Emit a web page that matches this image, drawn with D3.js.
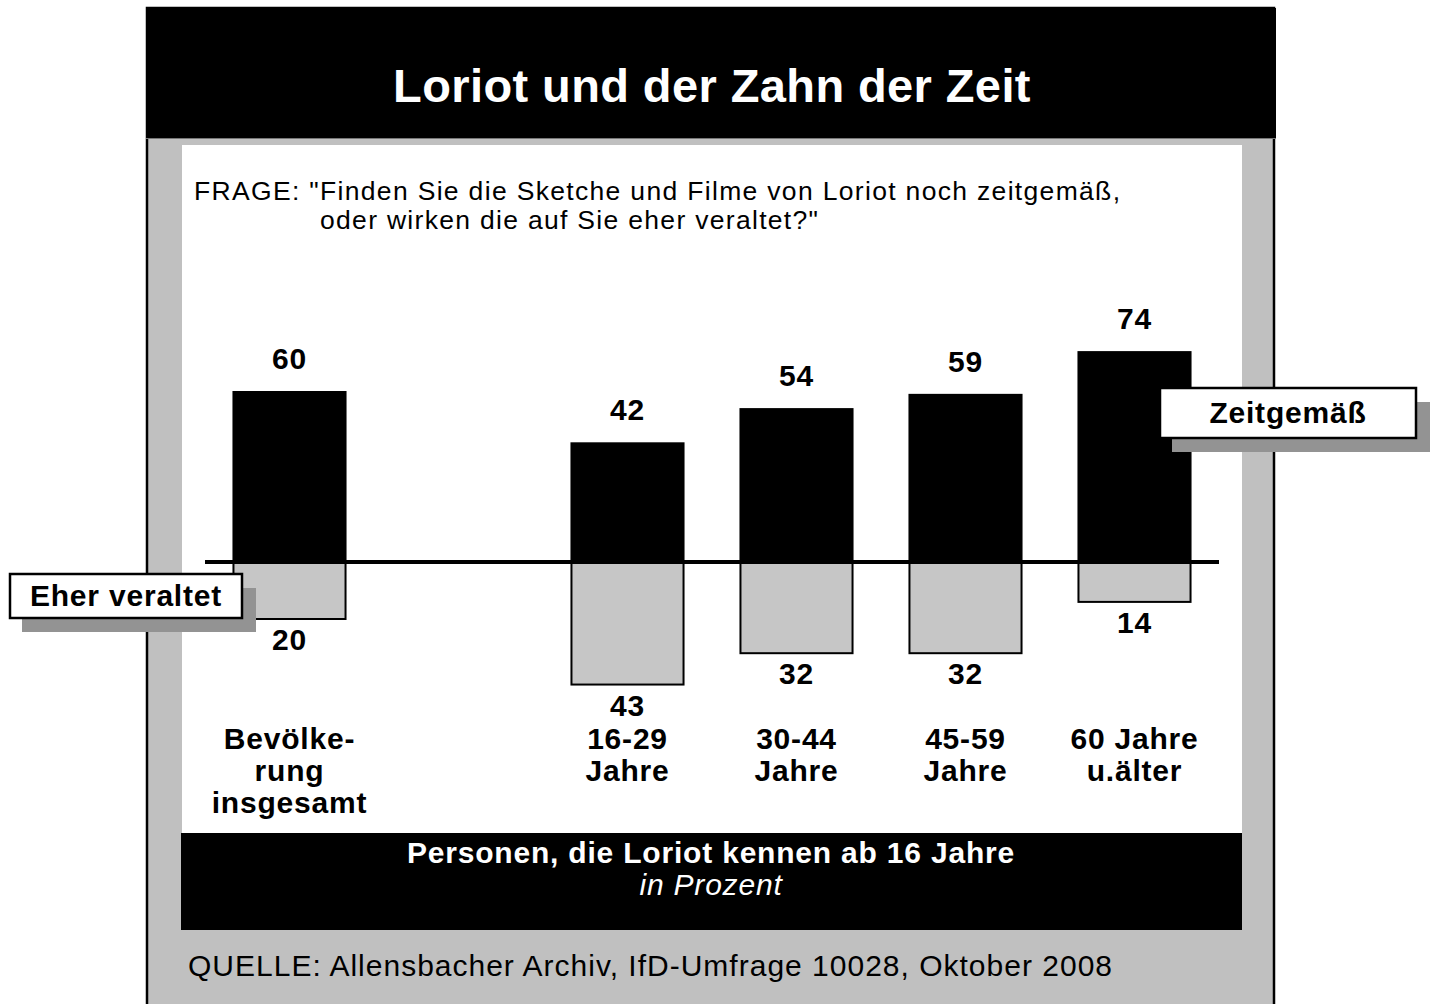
<!DOCTYPE html>
<html lang="de">
<head>
<meta charset="UTF-8">
<title>Loriot und der Zahn der Zeit</title>
<style>
  body { margin: 0; background: #fff; }
  svg { display: block; font-family: "Liberation Sans", Arial, Helvetica, sans-serif; }
</style>
</head>
<body>
<div id="chart"></div>
<script src="https://d3js.org/d3.v7.min.js"></script>
<script>
// data
const slots = ["gesamt", "leer", "16-29", "30-44", "45-59", "60+"];
const groups = ["gesamt", "16-29", "30-44", "45-59", "60+"];
const groupLabels = [["Bevölke-", "rung", "insgesamt"], ["16-29", "Jahre"], ["30-44", "Jahre"], ["45-59", "Jahre"], ["60 Jahre", "u.älter"]];
const zeitgemaess = [60, 42, 54, 59, 74];
const veraltet = [20, 43, 32, 32, 14];

const title = "Loriot und der Zahn der Zeit";
const frage = ["FRAGE: \"Finden Sie die Sketche und Filme von Loriot noch zeitgemäß,", "oder wirken die auf Sie eher veraltet?\""];
const basis = "Personen, die Loriot kennen ab 16 Jahre";
const einheit = "in Prozent";
const quelle = "QUELLE: Allensbacher Archiv, IfD-Umfrage 10028, Oktober 2008";

const W = 1438, H = 1004;
const svg = d3.select("#chart").append("svg").attr("width", W).attr("height", H);
const bold = 30, ls = 0.8;

// frame
svg.append("rect").attr("x", 147).attr("y", 8).attr("width", 1127).attr("height", 1000)
  .attr("fill", "#c0c0c0").attr("stroke", "#000").attr("stroke-width", 2.5);
svg.append("rect").attr("x", 146).attr("y", 8).attr("width", 1130).attr("height", 130).attr("fill", "#000");
svg.append("line").attr("x1", 146).attr("x2", 1276).attr("y1", 138.5).attr("y2", 138.5).attr("stroke", "#777").attr("stroke-width", 1);
svg.append("rect").attr("x", 182).attr("y", 145).attr("width", 1060).attr("height", 690).attr("fill", "#fff");
svg.append("rect").attr("x", 181).attr("y", 833).attr("width", 1061).attr("height", 97).attr("fill", "#000");

svg.append("text").attr("x", 712).attr("y", 102).attr("text-anchor", "middle")
  .attr("fill", "#fff").attr("font-weight", "bold").attr("font-size", 47).attr("letter-spacing", 0.4).text(title);

svg.append("text").attr("x", 194).attr("y", 200).attr("font-size", 26.5)
  .attr("textLength", 926).attr("lengthAdjust", "spacing").text(frage[0]);
svg.append("text").attr("x", 320).attr("y", 229).attr("font-size", 26.5)
  .attr("textLength", 498).attr("lengthAdjust", "spacing").text(frage[1]);

svg.append("text").attr("x", 711).attr("y", 863).attr("text-anchor", "middle")
  .attr("fill", "#fff").attr("font-weight", "bold").attr("font-size", bold).attr("letter-spacing", ls).text(basis);
svg.append("text").attr("x", 711).attr("y", 895).attr("text-anchor", "middle")
  .attr("fill", "#fff").attr("font-style", "italic").attr("font-size", bold).attr("letter-spacing", ls).text(einheit);

svg.append("text").attr("x", 188).attr("y", 976).attr("font-size", 30)
  .attr("textLength", 924).attr("lengthAdjust", "spacing").text(quelle);

// scales
const x = d3.scaleBand().domain(slots).range([205, 1219]).paddingInner(0.325).paddingOuter(0.1625);
const y = d3.scaleLinear().domain([-50, 80]).range([562 + 50 * 2.85, 562 - 80 * 2.85]);

const rows = groups.map((g, i) => ({ g, pos: zeitgemaess[i], neg: veraltet[i], label: groupLabels[i] }));

const g = svg.append("g");

// lower bars (eher veraltet)
g.selectAll(".neg").data(rows).enter().append("rect")
  .attr("class", "neg")
  .attr("x", d => x(d.g) + 1)
  .attr("y", y(0))
  .attr("width", x.bandwidth() - 2)
  .attr("height", d => y(-d.neg) - y(0))
  .attr("fill", "#c6c6c6").attr("stroke", "#000").attr("stroke-width", 2);

// upper bars (zeitgemäß)
g.selectAll(".pos").data(rows).enter().append("rect")
  .attr("class", "pos")
  .attr("x", d => x(d.g))
  .attr("y", d => y(d.pos))
  .attr("width", x.bandwidth())
  .attr("height", d => y(0) - y(d.pos))
  .attr("fill", "#000");

// zero line
g.append("line").attr("x1", x.range()[0]).attr("x2", x.range()[1])
  .attr("y1", y(0)).attr("y2", y(0)).attr("stroke", "#000").attr("stroke-width", 4);

// value labels
g.selectAll(".posLabel").data(rows).enter().append("text")
  .attr("x", d => x(d.g) + x.bandwidth() / 2)
  .attr("y", d => y(d.pos) - 22)
  .attr("text-anchor", "middle").attr("font-weight", "bold").attr("font-size", bold).attr("letter-spacing", ls)
  .text(d => d.pos);
g.selectAll(".negLabel").data(rows).enter().append("text")
  .attr("x", d => x(d.g) + x.bandwidth() / 2)
  .attr("y", d => y(-d.neg) + 31)
  .attr("text-anchor", "middle").attr("font-weight", "bold").attr("font-size", bold).attr("letter-spacing", ls)
  .text(d => d.neg);

// category labels
const cat = g.selectAll(".cat").data(rows).enter().append("text")
  .attr("text-anchor", "middle").attr("font-weight", "bold").attr("font-size", bold).attr("letter-spacing", ls);
cat.selectAll("tspan").data(d => d.label.map(t => ({ t, cx: x(d.g) + x.bandwidth() / 2 }))).enter()
  .append("tspan")
  .attr("x", d => d.cx)
  .attr("y", (d, i) => 749 + i * 32)
  .text(d => d.t);

// legend boxes with shadow
function tag(bx, by, bw, bh, label) {
  svg.append("rect").attr("x", bx + 12).attr("y", by + 14).attr("width", bw + 2).attr("height", bh)
    .attr("fill", "#939393");
  svg.append("rect").attr("x", bx).attr("y", by).attr("width", bw).attr("height", bh)
    .attr("fill", "#fff").attr("stroke", "#000").attr("stroke-width", 2.5);
  svg.append("text").attr("x", bx + bw / 2).attr("y", by + bh / 2 + 10)
    .attr("text-anchor", "middle").attr("font-weight", "bold").attr("font-size", bold).attr("letter-spacing", ls).text(label);
}
tag(10, 574, 232, 44, "Eher veraltet");
tag(1160, 388, 256, 50, "Zeitgemäß");
</script>
</body>
</html>
